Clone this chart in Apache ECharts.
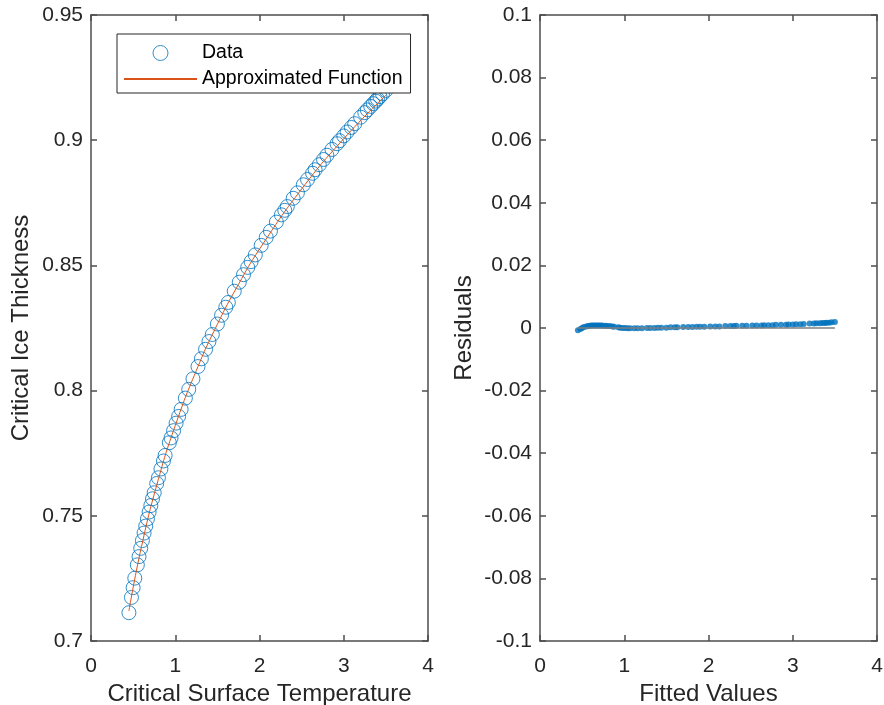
<!DOCTYPE html>
<html>
<head>
<meta charset="utf-8">
<script src="https://cdn.jsdelivr.net/npm/echarts@6/dist/echarts.min.js"></script>
<style>
  html, body { margin: 0; padding: 0; background: #fff; }
  #main { width: 884px; height: 705px; }
</style>
</head>
<body>
<div id="main"></div>
<script>
// critical surface temperature (x of both panels)
var tempX = [0.45, 0.48, 0.50, 0.52, 0.55, 0.57, 0.59, 0.61, 0.63, 0.65, 0.67, 0.69, 0.71, 0.73, 0.75,
  0.78, 0.80, 0.83, 0.86, 0.88, 0.93, 0.95, 0.98, 1.01, 1.04, 1.07, 1.12, 1.16, 1.21, 1.27, 1.31, 1.36,
  1.40, 1.44, 1.50, 1.55, 1.60, 1.63, 1.70, 1.76, 1.81, 1.86, 1.90, 1.95, 2.02, 2.08, 2.13, 2.20, 2.26,
  2.30, 2.33, 2.40, 2.45, 2.52, 2.57, 2.63, 2.66, 2.71, 2.76, 2.80, 2.86, 2.92, 2.95, 3.00, 3.04, 3.09,
  3.13, 3.20, 3.25, 3.28, 3.32, 3.35, 3.38, 3.40, 3.43, 3.46, 3.50];
// critical ice thickness (data circles)
var iceY = [0.7113, 0.7174, 0.7213, 0.7251, 0.7304, 0.7337, 0.7370, 0.7401, 0.7431, 0.7459, 0.7488, 0.7515, 0.7541, 0.7568, 0.7592,
  0.7629, 0.7652, 0.7687, 0.7719, 0.7741, 0.7792, 0.7811, 0.7840, 0.7870, 0.7897, 0.7925, 0.7970, 0.8005, 0.8047, 0.8096, 0.8127, 0.8165,
  0.8196, 0.8224, 0.8266, 0.8301, 0.8333, 0.8352, 0.8397, 0.8433, 0.8463, 0.8492, 0.8515, 0.8542, 0.8580, 0.8612, 0.8637, 0.8673, 0.8702,
  0.8720, 0.8735, 0.8768, 0.8790, 0.8822, 0.8843, 0.8868, 0.8882, 0.8902, 0.8923, 0.8940, 0.8963, 0.8986, 0.8998, 0.9017, 0.9033, 0.9051,
  0.9066, 0.9092, 0.9110, 0.9121, 0.9135, 0.9146, 0.9156, 0.9164, 0.9174, 0.9185, 0.9199];
// residuals (right panel)
var residY = [-0.0007, -0.0003, 0.0000, 0.0003, 0.0005, 0.0006, 0.0007, 0.0008, 0.0008, 0.0008, 0.0008, 0.0008, 0.0008, 0.0008, 0.0007,
  0.0007, 0.0006, 0.0006, 0.0005, 0.0004, 0.0002, 0.0001, 0.0000, 0.0000, -0.0001, -0.0001, -0.0001, -0.0001, -0.0001, 0.0000, 0.0000, 0.0000,
  0.0001, 0.0001, 0.0001, 0.0002, 0.0002, 0.0002, 0.0003, 0.0003, 0.0003, 0.0004, 0.0004, 0.0004, 0.0005, 0.0005, 0.0005, 0.0006, 0.0006,
  0.0006, 0.0007, 0.0007, 0.0007, 0.0008, 0.0008, 0.0008, 0.0009, 0.0009, 0.0009, 0.0010, 0.0010, 0.0010, 0.0011, 0.0011, 0.0012, 0.0012,
  0.0013, 0.0014, 0.0014, 0.0015, 0.0015, 0.0016, 0.0016, 0.0017, 0.0017, 0.0018, 0.0019];
// approximated function
var fitX = [0.45, 0.60, 0.80, 1.00, 1.25, 1.50, 1.75, 2.00, 2.50, 3.00, 3.50];
var fitY = [0.7120, 0.7378, 0.7646, 0.7860, 0.8080, 0.8265, 0.8424, 0.8565, 0.8805, 0.9006, 0.9180];
// zero reference line on the residual plot
var refX = [0.45, 3.50];
var refY = [0, 0];

var xTicks = [0, 1, 2, 3, 4];
var thickTicks = [0.7, 0.75, 0.8, 0.85, 0.9, 0.95];
var residTicks = [-0.1, -0.08, -0.06, -0.04, -0.02, 0, 0.02, 0.04, 0.06, 0.08, 0.1];

function zip(a, b) {
  return a.map(function (v, i) { return [v, b[i]]; });
}

var FONT = '"Liberation Sans", Arial, Helvetica, sans-serif';
var INK = '#262626';
var AXIS = '#4d4d4d';

function axisBase(ticks, extra) {
  var o = {
    min: ticks[0],
    max: ticks[ticks.length - 1],
    interval: +(ticks[1] - ticks[0]).toFixed(4),
    axisLine: { show: true, onZero: false, lineStyle: { color: AXIS, width: 1.5 } },
    axisTick: { show: true, inside: true, length: 6, lineStyle: { color: AXIS, width: 1.5 } },
    splitLine: { show: false },
    axisLabel: {
      color: INK, fontSize: 21, fontFamily: FONT,
      formatter: function (v) { return String(+v.toFixed(2)); }
    },
    nameTextStyle: { color: INK, fontSize: 24, fontFamily: FONT },
    nameLocation: 'middle'
  };
  for (var k in extra) o[k] = extra[k];
  return o;
}

// bottom axes sit a little lower under the plot than the default gap
var bottomLabel = {
  color: INK, fontSize: 21, fontFamily: FONT, margin: 15,
  formatter: function (v) { return String(+v.toFixed(2)); }
};

var chart = echarts.init(document.getElementById('main'), null, { renderer: 'canvas' });

var option = {
  animation: false,
  backgroundColor: '#fff',
  grid: [
    { left: 91, top: 15, width: 337, height: 626, containLabel: false, outerBoundsMode: 'none' },
    { left: 540, top: 15, width: 337, height: 626, containLabel: false, outerBoundsMode: 'none' }
  ],
  xAxis: [
    axisBase(xTicks, { gridIndex: 0, position: 'bottom', axisLabel: bottomLabel, name: 'Critical Surface Temperature', nameGap: 32 }),
    axisBase(xTicks, { gridIndex: 0, position: 'top', axisLabel: { show: false } }),
    axisBase(xTicks, { gridIndex: 1, position: 'bottom', axisLabel: bottomLabel, name: 'Fitted Values', nameGap: 32 }),
    axisBase(xTicks, { gridIndex: 1, position: 'top', axisLabel: { show: false } })
  ],
  yAxis: [
    axisBase(thickTicks, { gridIndex: 0, position: 'left', name: 'Critical Ice Thickness', nameGap: 58 }),
    axisBase(thickTicks, { gridIndex: 0, position: 'right', axisLabel: { show: false } }),
    axisBase(residTicks, { gridIndex: 1, position: 'left', name: 'Residuals', nameGap: 64 }),
    axisBase(residTicks, { gridIndex: 1, position: 'right', axisLabel: { show: false } })
  ],
  legend: {
    left: 117,
    top: 34,
    orient: 'vertical',
    padding: [9, 8, 4, 6],
    itemGap: 6,
    itemWidth: 73,
    itemHeight: 15,
    backgroundColor: '#fff',
    borderColor: INK,
    borderWidth: 1,
    borderRadius: 0,
    textStyle: { color: '#000', fontSize: 19.5, fontFamily: FONT },
    data: [
      { name: 'Data', itemStyle: { color: 'transparent', borderColor: '#0072BD', borderWidth: 1 } },
      { name: 'Approximated Function', itemStyle: { color: 'transparent', borderColor: 'transparent', borderWidth: 0 } }
    ]
  },
  series: [
    {
      name: 'Data',
      type: 'scatter',
      xAxisIndex: 0, yAxisIndex: 0,
      symbol: 'circle',
      symbolSize: 14,
      itemStyle: { color: 'transparent', borderColor: '#0072BD', borderWidth: 1 },
      data: zip(tempX, iceY)
    },
    {
      name: 'Approximated Function',
      type: 'line',
      xAxisIndex: 0, yAxisIndex: 0,
      symbol: 'none',
      smooth: true,
      lineStyle: { color: '#D95319', width: 1 },
      itemStyle: { color: '#D95319' },
      data: zip(fitX, fitY)
    },
    {
      name: 'Reference',
      type: 'line',
      xAxisIndex: 2, yAxisIndex: 2,
      symbol: 'none',
      lineStyle: { color: '#7f7f7f', width: 1.5 },
      data: zip(refX, refY)
    },
    {
      name: 'Residuals',
      type: 'scatter',
      xAxisIndex: 2, yAxisIndex: 2,
      symbol: 'circle',
      symbolSize: 6,
      itemStyle: { color: '#0072BD' },
      data: zip(tempX, residY)
    }
  ]
};

chart.setOption(option);
</script>
</body>
</html>
